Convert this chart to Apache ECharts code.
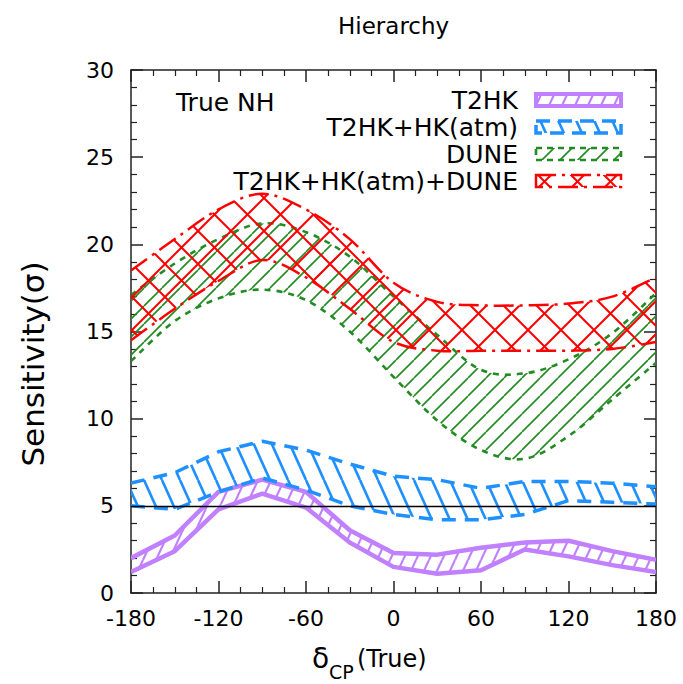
<!DOCTYPE html>
<html>
<head>
<meta charset="utf-8">
<script src="https://cdn.jsdelivr.net/npm/echarts@6/dist/echarts.min.js"></script>
<style>
  html, body { margin: 0; padding: 0; background: #fff; }
  #chart { width: 683px; height: 684px; }
</style>
</head>
<body>
<div id="chart"></div>
<script>
// True delta_CP (degrees)
const deltaCP = [-180, -150, -120, -90, -60, -30, 0, 30, 60, 90, 120, 150, 180];

// Mass-hierarchy sensitivity bands (sigma), lower and upper edges
const t2hkLow  = [1.2, 2.4, 4.8, 5.7, 4.9, 2.9, 1.5, 1.1, 1.3, 2.5, 2.1, 1.6, 1.2];
const t2hkHigh = [2.0, 3.3, 5.8, 6.5, 5.8, 3.6, 2.3, 2.2, 2.6, 2.9, 3.0, 2.4, 1.9];

const hkAtmLow  = [5.0, 4.8, 5.8, 6.6, 5.9, 5.0, 4.5, 4.2, 4.2, 4.5, 5.3, 5.2, 5.1];
const hkAtmHigh = [6.3, 6.9, 8.1, 8.7, 8.2, 7.4, 6.7, 6.5, 6.0, 6.4, 6.4, 6.3, 6.1];

const duneLow  = [13.3, 15.6, 16.9, 17.4, 16.8, 15.0, 12.4, 9.9, 8.2, 7.7, 9.0, 11.1, 13.2];
const duneHigh = [17.1, 18.9, 20.3, 21.2, 20.7, 19.3, 17.0, 14.8, 12.8, 12.6, 13.4, 14.9, 17.2];

const allLow  = [14.5, 16.3, 17.9, 19.1, 18.1, 16.3, 14.4, 13.9, 13.9, 13.9, 13.9, 14.0, 14.4];
const allHigh = [18.5, 20.3, 22.0, 22.9, 22.0, 20.3, 17.8, 16.7, 16.5, 16.5, 16.6, 17.0, 18.1];

// Tick labels and text
const xTicks = [-180, -120, -60, 0, 60, 120, 180];
const legendNames = ['T2HK', 'T2HK+HK(atm)', 'DUNE', 'T2HK+HK(atm)+DUNE'];
const threshold = 5;

const FONT = 'DejaVu Sans';
const COL = { t2hk: '#c080ff', hk: '#1e90ff', dune: '#228b22', all: '#ff0000' };

// Repeating hatch tile: '/' rising lines, '\' falling lines
function hatch(color, w, h, lw, dirs) {
  const c = document.createElement('canvas');
  c.width = w; c.height = h;
  const g = c.getContext('2d');
  g.strokeStyle = color; g.lineWidth = lw; g.lineCap = 'butt';
  g.beginPath();
  dirs.forEach(d => {
    for (const dx of [-w, 0, w]) {
      if (d === '/') { g.moveTo(dx, h); g.lineTo(dx + w, 0); }
      else { g.moveTo(dx, 0); g.lineTo(dx + w, h); }
    }
  });
  g.stroke();
  return { image: c, repeat: 'repeat' };
}

const PAT = {
  t2hk: hatch(COL.t2hk, 13, 28, 2.2, ['/']),
  hk:   hatch(COL.hk, 18, 40, 2.6, ['\\']),
  dune: hatch(COL.dune, 18, 18, 1.6, ['/']),
  all:  hatch(COL.all, 33, 33, 2, ['/', '\\'])
};

// Path through pixel points; Catmull-Rom curve when smooth is set
function pathThrough(pts, smooth, start) {
  let d = (start ? 'M' : 'L') + pts[0][0].toFixed(2) + ',' + pts[0][1].toFixed(2);
  for (let i = 0; i < pts.length - 1; i++) {
    const p1 = pts[i], p2 = pts[i + 1];
    if (!smooth) { d += 'L' + p2[0].toFixed(2) + ',' + p2[1].toFixed(2); continue; }
    const p0 = pts[Math.max(i - 1, 0)], p3 = pts[Math.min(i + 2, pts.length - 1)];
    const c1 = [p1[0] + (p2[0] - p0[0]) / 6, p1[1] + (p2[1] - p0[1]) / 6];
    const c2 = [p2[0] - (p3[0] - p1[0]) / 6, p2[1] - (p3[1] - p1[1]) / 6];
    d += 'C' + c1.map(v => v.toFixed(2)).join(',') + ' ' + c2.map(v => v.toFixed(2)).join(',') +
         ' ' + p2[0].toFixed(2) + ',' + p2[1].toFixed(2);
  }
  return d;
}

function band(id, lo, hi, color, pattern, dash, width, smooth, z) {
  return {
    type: 'custom', name: id, z, silent: true, clip: true,
    data: deltaCP.map((x, i) => [x, lo[i], hi[i]]),
    encode: { x: 0, y: [1, 2] },
    renderItem: (params, api) => {
      if (params.dataIndex !== 0) return null;
      const up = deltaCP.map((x, i) => api.coord([x, hi[i]]));
      const dn = deltaCP.map((x, i) => api.coord([x, lo[i]]));
      const fillPath = pathThrough(up, smooth, true) + pathThrough(dn.slice().reverse(), smooth, false) + 'Z';
      const edge = { fill: 'none', stroke: color, lineWidth: width, lineDash: dash, lineJoin: 'round' };
      return {
        type: 'group',
        children: [
          { type: 'path', shape: { pathData: fillPath }, style: { fill: pattern, stroke: 'none' } },
          { type: 'path', shape: { pathData: pathThrough(dn, smooth, true) }, style: Object.assign({}, edge) },
          { type: 'path', shape: { pathData: pathThrough(up, smooth, true) }, style: Object.assign({}, edge) }
        ]
      };
    }
  };
}

const series = [
  band('t2hk', t2hkLow, t2hkHigh, COL.t2hk, PAT.t2hk, null, 4.5, false, 2),
  band('hk', hkAtmLow, hkAtmHigh, COL.hk, PAT.hk, [14, 9], 3.5, false, 3),
  band('dune', duneLow, duneHigh, COL.dune, PAT.dune, [6, 6], 2.6, true, 4),
  band('all', allLow, allHigh, COL.all, PAT.all, [20, 6, 3, 6], 2.5, true, 5)
];

// Reference line at 5 sigma
series.push({
  type: 'line', name: 'threshold', data: [], silent: true, z: 12,
  markLine: { silent: true, symbol: 'none', label: { show: false },
    lineStyle: { color: '#000', width: 1.3, type: 'solid' },
    data: [{ yAxis: threshold }] }
});

const axisBase = {
  axisLine: { show: true, onZero: false, lineStyle: { color: '#222', width: 1.5 } },
  axisTick: { show: true, inside: true, length: 12, lineStyle: { color: '#222', width: 1.5 } },
  minorTick: { show: true, length: 6, lineStyle: { color: '#222', width: 1.2 } },
  splitLine: { show: false },
  minorSplitLine: { show: false }
};

const xBase = Object.assign({ type: 'value', min: -180, max: 180, interval: 60 }, axisBase);
xBase.minorTick = Object.assign({ splitNumber: 4 }, axisBase.minorTick);
const yBase = Object.assign({ type: 'value', min: 0, max: 30, interval: 5 }, axisBase);
yBase.minorTick = Object.assign({ splitNumber: 5 }, axisBase.minorTick);

const legendRows = [
  { color: COL.t2hk, pat: PAT.t2hk, dash: null, lw: 4 },
  { color: COL.hk, pat: PAT.hk, dash: [14, 8], lw: 3.5 },
  { color: COL.dune, pat: PAT.dune, dash: [6, 5], lw: 2.6 },
  { color: COL.all, pat: PAT.all, dash: [20, 6, 3, 6], lw: 2.5 }
];
const rowY = [100, 127, 154, 181];
const graphics = [];
legendNames.forEach((name, i) => {
  graphics.push({ type: 'text', x: 518, y: rowY[i], z: 20,
    style: { text: name, font: '25px "' + FONT + '"', fill: '#000', align: 'right', verticalAlign: 'middle' } });
  const r = legendRows[i];
  graphics.push({ type: 'rect', z: 20, shape: { x: 536, y: rowY[i] - 6, width: 85, height: 12 },
    style: { fill: r.pat, stroke: r.color, lineWidth: r.lw, lineDash: r.dash } });
});
graphics.push(
  { type: 'text', x: 176, y: 102, z: 20,
    style: { text: 'True NH', font: '25px "' + FONT + '"', fill: '#000', align: 'left', verticalAlign: 'middle' } },
  { type: 'text', x: 33, y: 364, rotation: Math.PI / 2, z: 20,
    style: { text: 'Sensitivity(σ)', font: '31px "' + FONT + '"', fill: '#000', align: 'center', verticalAlign: 'middle' } },
  { type: 'text', x: 312, y: 658, z: 20,
    style: { text: 'δ', font: '28px "' + FONT + '"', fill: '#000', align: 'left', verticalAlign: 'middle' } },
  { type: 'text', x: 329, y: 672, z: 20,
    style: { text: 'CP', font: '19px "' + FONT + '"', fill: '#000', align: 'left', verticalAlign: 'middle' } },
  { type: 'text', x: 357, y: 659, z: 20,
    style: { text: '(True)', font: '24px "' + FONT + '"', fill: '#000', align: 'left', verticalAlign: 'middle' } }
);

const chart = echarts.init(document.getElementById('chart'), null, { renderer: 'svg' });
chart.setOption({
  animation: false,
  backgroundColor: '#fff',
  title: { text: 'Hierarchy', left: 333, top: 9,
    textStyle: { fontFamily: FONT, fontSize: 23, fontWeight: 'normal', color: '#000' } },
  grid: { left: 131, right: 27, top: 70, bottom: 91, containLabel: false },
  xAxis: [
    Object.assign({}, xBase, { position: 'bottom',
      axisLabel: { show: true, margin: 14, fontFamily: FONT, fontSize: 22, color: '#000',
        customValues: xTicks, formatter: v => String(v) } }),
    Object.assign({}, xBase, { position: 'top', axisLabel: { show: false } })
  ],
  yAxis: [
    Object.assign({}, yBase, { position: 'left',
      axisLabel: { show: true, margin: 17, fontFamily: FONT, fontSize: 22, color: '#000' } }),
    Object.assign({}, yBase, { position: 'right', axisLabel: { show: false } })
  ],
  graphic: graphics,
  series: series
});
</script>
</body>
</html>
